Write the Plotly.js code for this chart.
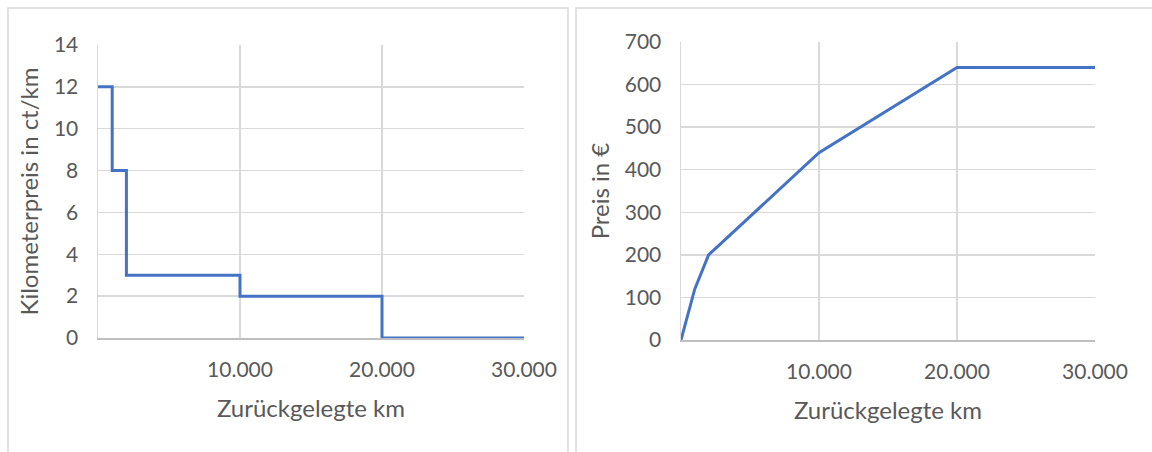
<!DOCTYPE html>
<html>
<head>
<meta charset="utf-8">
<script src="https://cdn.plot.ly/plotly-3.0.1.min.js"></script>
<style>html,body{margin:0;padding:0;background:#fff;}#chart{width:1152px;height:452px;}</style>
</head>
<body>
<div id="chart"></div>
<script>
// Data
const km = [0, 1000, 2000, 10000, 20000, 30000];
const pricePerKm = [12, 8, 3, 2, 0, 0];          // ct/km
const totalPrice = [0, 120, 200, 440, 640, 640];  // €
const xTickVals = [10000, 20000, 30000];
const xTickText = ["10.000", "20.000", "30.000"];
const xTitle = "Zurückgelegte km";
const yTitleLeft = "Kilometerpreis in ct/km";
const yTitleRight = "Preis in €";

const W = 1152, H = 452;
const fontFam = "Lato, 'Open Sans', sans-serif";
const txt = "#595959";
const grid = "#d9d9d9";
const lineColor = "#4472C4";

const traces = [
  {x: km, y: pricePerKm, type: "scatter", mode: "lines", line: {color: lineColor, width: 3, shape: "hv"},
   xaxis: "x", yaxis: "y", cliponaxis: false, hoverinfo: "skip"},
  {x: km, y: totalPrice, type: "scatter", mode: "lines", line: {color: lineColor, width: 3},
   xaxis: "x2", yaxis: "y2", cliponaxis: false, hoverinfo: "skip"}
];

function xa(domain, anchor) {
  return {domain: domain, anchor: anchor, range: [0, 30000], tickmode: "array", tickvals: xTickVals, ticktext: xTickText,
    showgrid: true, gridcolor: grid, gridwidth: 1.5, zeroline: false, showline: true, linecolor: "#bfbfbf", linewidth: 1.5,
    ticks: "", ticklabelstandoff: 12, tickfont: {family: fontFam, size: 21, color: txt},
    title: {text: xTitle, font: {family: fontFam, size: 24, color: txt}, standoff: 20}, fixedrange: true};
}
function ya(domain, anchor, range, dtick, title) {
  return {domain: domain, anchor: anchor, range: range, dtick: dtick, showgrid: true, gridcolor: grid, gridwidth: 1.5,
    zeroline: false, showline: true, linecolor: grid, linewidth: 1.5, ticks: "", ticklabelstandoff: 14,
    tickfont: {family: fontFam, size: 21, color: txt},
    title: {text: title, font: {family: fontFam, size: 24, color: txt}, standoff: 8}, fixedrange: true,
    mirror: false};
}

const layout = {
  width: W, height: H, margin: {l: 0, r: 0, t: 0, b: 0}, paper_bgcolor: "#fff", plot_bgcolor: "#fff",
  showlegend: false,
  xaxis: xa([98/W, 524/W], "y"),
  yaxis: ya([114/H, 407/H], "x", [0, 14], 2, yTitleLeft),
  xaxis2: xa([681/W, 1095/W], "y2"),
  yaxis2: ya([112/H, 410/H], "x2", [0, 700], 100, yTitleRight),
  shapes: [
    {type: "rect", xref: "paper", yref: "paper", x0: 8/W, x1: 568/W, y0: -0.05, y1: 1 - 8/H, line: {color: "#d9d9d9", width: 1.5}, fillcolor: "rgba(0,0,0,0)", layer: "below"},
    {type: "rect", xref: "paper", yref: "paper", x0: 576/W, x1: 1.05, y0: -0.05, y1: 1 - 8/H, line: {color: "#d9d9d9", width: 1.5}, fillcolor: "rgba(0,0,0,0)", layer: "below"}
  ]
};

Plotly.newPlot("chart", traces, layout, {staticPlot: true, displayModeBar: false});
</script>
</body>
</html>
